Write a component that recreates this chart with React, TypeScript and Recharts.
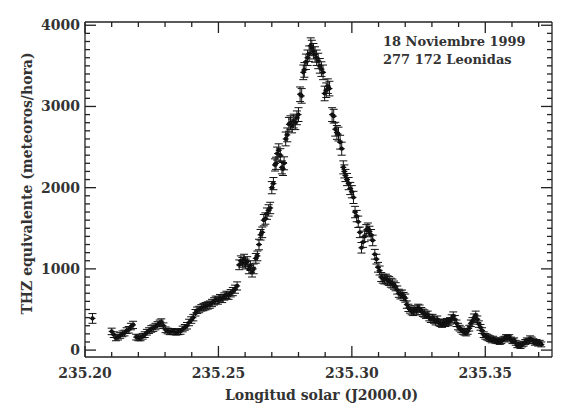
import { ErrorBar, Scatter, ScatterChart, XAxis, YAxis } from "recharts";

const longitudeTicks = [
  235.2, 235.21, 235.22, 235.23, 235.24, 235.25, 235.26, 235.27, 235.28,
  235.29, 235.3, 235.31, 235.32, 235.33, 235.34, 235.35, 235.36, 235.37,
];

const rateTicks = [
  0, 100, 200, 300, 400, 500, 600, 700, 800, 900, 1000, 1100, 1200, 1300,
  1400, 1500, 1600, 1700, 1800, 1900, 2000, 2100, 2200, 2300, 2400, 2500,
  2600, 2700, 2800, 2900, 3000, 3100, 3200, 3300, 3400, 3500, 3600, 3700,
  3800, 3900, 4000,
];

const annotation = ["18 Noviembre 1999", "277 172 Leonidas"];

// [longitud solar, THZ, error]
const rows: [number, number, number][] = [
  [235.2028, 390, 60],
  [235.21, 230, 40], [235.2108, 190, 35], [235.2116, 150, 35], [235.2124, 160, 35],
  [235.2132, 180, 35], [235.214, 200, 35], [235.2148, 210, 35], [235.2156, 240, 35],
  [235.2164, 250, 40], [235.2172, 290, 40], [235.218, 310, 45],
  [235.2192, 160, 35], [235.22, 150, 35], [235.2208, 150, 35], [235.2216, 170, 35],
  [235.2224, 190, 35], [235.2232, 220, 35], [235.224, 240, 35], [235.2248, 260, 40],
  [235.2256, 270, 40], [235.2264, 290, 40], [235.2272, 310, 40], [235.228, 330, 40],
  [235.2286, 345, 40], [235.2294, 300, 35], [235.2302, 250, 35], [235.231, 235, 35],
  [235.2318, 225, 35], [235.2326, 230, 35], [235.2334, 225, 35], [235.2342, 220, 35],
  [235.235, 225, 35], [235.2358, 230, 35], [235.2366, 260, 35], [235.2374, 280, 35],
  [235.2382, 300, 40], [235.239, 340, 40], [235.2398, 370, 40], [235.2406, 400, 40],
  [235.2414, 460, 40], [235.242, 490, 40], [235.2428, 500, 40], [235.2436, 520, 40],
  [235.2444, 530, 45], [235.2452, 540, 45], [235.246, 550, 45], [235.2468, 560, 45],
  [235.2476, 580, 45], [235.2484, 600, 45], [235.249, 620, 45], [235.2498, 610, 45],
  [235.2506, 640, 45], [235.2514, 630, 45], [235.2522, 660, 45], [235.253, 680, 45],
  [235.2538, 670, 45], [235.2546, 700, 45], [235.2554, 720, 50], [235.2562, 750, 50],
  [235.257, 790, 50],
  [235.2578, 1050, 60], [235.2584, 1100, 60], [235.259, 1080, 60], [235.2596, 1120, 60],
  [235.2602, 1060, 60], [235.2608, 1090, 60], [235.2614, 1000, 60], [235.262, 1040, 60],
  [235.2626, 960, 60], [235.2632, 1000, 60], [235.264, 1130, 60], [235.2646, 1160, 60],
  [235.2652, 1300, 65], [235.2658, 1420, 65], [235.2664, 1450, 65], [235.267, 1600, 70],
  [235.2676, 1620, 70], [235.2682, 1680, 70], [235.2688, 1720, 70], [235.2694, 1750, 70],
  [235.27, 2000, 75], [235.2706, 2050, 75], [235.2712, 2280, 75], [235.2716, 2300, 75],
  [235.272, 2420, 80], [235.2726, 2460, 80], [235.2732, 2400, 80], [235.2738, 2250, 80],
  [235.2742, 2230, 80], [235.2746, 2300, 80], [235.2752, 2600, 85], [235.2758, 2650, 85],
  [235.2764, 2780, 85], [235.277, 2800, 85], [235.2776, 2760, 85], [235.2782, 2820, 85],
  [235.2788, 2800, 85], [235.2794, 2860, 85], [235.28, 2900, 85], [235.2806, 3150, 90],
  [235.2812, 3130, 90], [235.2818, 3420, 90], [235.2822, 3450, 90], [235.2828, 3550, 95],
  [235.2834, 3600, 95], [235.284, 3650, 95], [235.2846, 3750, 95], [235.285, 3720, 95],
  [235.2856, 3680, 95], [235.2862, 3640, 95], [235.2868, 3600, 95], [235.2874, 3560, 95],
  [235.288, 3500, 90], [235.2886, 3460, 90], [235.2892, 3420, 90], [235.2898, 3160, 90],
  [235.2904, 3200, 90], [235.291, 3250, 90], [235.2916, 3220, 90], [235.2926, 2900, 85],
  [235.2932, 2880, 85], [235.2938, 2720, 85], [235.2944, 2680, 85], [235.295, 2660, 85],
  [235.2956, 2560, 85], [235.2962, 2480, 80], [235.2968, 2250, 80], [235.2972, 2200, 80],
  [235.2976, 2150, 75], [235.2982, 2100, 75], [235.2988, 2050, 75], [235.2994, 1990, 75],
  [235.3, 1950, 75], [235.3006, 1880, 75], [235.3012, 1700, 70], [235.3018, 1650, 70],
  [235.3024, 1580, 70], [235.303, 1450, 65], [235.3036, 1260, 65], [235.3042, 1330, 65],
  [235.3048, 1400, 65], [235.3054, 1480, 65], [235.306, 1500, 65], [235.3066, 1460, 65],
  [235.3072, 1420, 65], [235.3078, 1350, 65], [235.3086, 1180, 60], [235.3092, 1120, 60],
  [235.3098, 1020, 60], [235.3104, 980, 55], [235.311, 900, 55], [235.3116, 880, 55],
  [235.3122, 870, 55], [235.3128, 880, 55], [235.3134, 860, 55], [235.314, 850, 55],
  [235.3146, 830, 55], [235.3152, 820, 55], [235.3158, 800, 50], [235.3164, 780, 50],
  [235.317, 740, 50], [235.3176, 700, 50], [235.3182, 680, 50], [235.3188, 690, 50],
  [235.3194, 660, 50], [235.32, 640, 50], [235.3206, 560, 45], [235.3212, 520, 45],
  [235.3218, 500, 45], [235.3224, 480, 45], [235.323, 470, 45], [235.3236, 500, 45],
  [235.3242, 480, 45], [235.3248, 520, 45], [235.3254, 510, 45], [235.326, 480, 45],
  [235.3266, 460, 45], [235.3272, 450, 45], [235.3278, 430, 40], [235.3284, 440, 40],
  [235.329, 400, 40], [235.3296, 380, 40], [235.3302, 400, 40], [235.3308, 370, 40],
  [235.3314, 350, 40], [235.332, 380, 40], [235.3326, 340, 40], [235.3332, 330, 40],
  [235.3338, 320, 40], [235.3344, 340, 40], [235.335, 330, 40], [235.3356, 350, 40],
  [235.3362, 340, 40], [235.3368, 360, 40], [235.3374, 390, 45], [235.338, 420, 50],
  [235.3386, 380, 45], [235.3392, 330, 40], [235.3398, 290, 40], [235.3404, 270, 35],
  [235.341, 250, 35], [235.3416, 230, 35], [235.3422, 220, 35], [235.3428, 210, 35],
  [235.3434, 230, 35], [235.344, 270, 35], [235.3446, 330, 40], [235.3452, 360, 40],
  [235.3458, 400, 45], [235.3464, 430, 50], [235.347, 380, 40], [235.3476, 320, 40],
  [235.3482, 280, 35], [235.3488, 240, 35], [235.3494, 190, 35], [235.35, 170, 35],
  [235.3506, 160, 35], [235.3512, 150, 35], [235.3518, 140, 35], [235.3524, 120, 30],
  [235.353, 140, 30], [235.3536, 120, 30], [235.3542, 110, 30], [235.3548, 120, 30],
  [235.3554, 100, 30], [235.356, 110, 30], [235.3566, 130, 30], [235.3572, 140, 30],
  [235.3578, 160, 30], [235.3584, 150, 30], [235.359, 160, 30], [235.3596, 130, 30],
  [235.3602, 110, 30], [235.3608, 120, 30], [235.3614, 90, 30], [235.362, 60, 30],
  [235.3626, 70, 30], [235.3632, 50, 30], [235.3638, 70, 30], [235.3644, 80, 30],
  [235.365, 100, 30], [235.3656, 120, 30], [235.3662, 110, 30], [235.3668, 140, 35],
  [235.3674, 130, 30], [235.368, 110, 30], [235.3686, 90, 30], [235.3692, 100, 30],
  [235.3698, 80, 30], [235.3704, 90, 30], [235.371, 70, 30],
];

const data = rows.map(([lon, thz, err]) => ({ lon, thz, err }));

const FONT = "'DejaVu Serif', serif";
const INK = "#222";

const isMajorLon = (v: number) => Math.round(v * 100) % 5 === 0;
const isMajorRate = (v: number) => v % 1000 === 0;

function BottomTick({ x, y, payload }: any) {
  const major = isMajorLon(payload.value);
  return (
    <g>
      <line x1={x} x2={x} y1={y} y2={y - (major ? 11 : 5)} stroke={INK} strokeWidth={1.3} />
      {major && (
        <text x={x} y={y + 21} textAnchor="middle" fontFamily={FONT} fontSize={14} fontWeight="bold" fill="#333">
          {payload.value.toFixed(2)}
        </text>
      )}
    </g>
  );
}

function TopTick({ x, y, payload }: any) {
  const major = isMajorLon(payload.value);
  return <line x1={x} x2={x} y1={y} y2={y + (major ? 11 : 5)} stroke={INK} strokeWidth={1.3} />;
}

function LeftTick({ x, y, payload }: any) {
  const major = isMajorRate(payload.value);
  return (
    <g>
      <line x1={x} x2={x + (major ? 11 : 5)} y1={y} y2={y} stroke={INK} strokeWidth={1.3} />
      {major && (
        <text x={x - 5} y={y} dy={5} textAnchor="end" fontFamily={FONT} fontSize={14} fontWeight="bold" fill="#333">
          {payload.value}
        </text>
      )}
    </g>
  );
}

function RightTick({ x, y, payload }: any) {
  const major = isMajorRate(payload.value);
  return <line x1={x} x2={x - (major ? 11 : 5)} y1={y} y2={y} stroke={INK} strokeWidth={1.3} />;
}

function YTitle({ viewBox }: any) {
  const cx = viewBox.x + 27;
  const cy = viewBox.y + viewBox.height / 2 - 6;
  return (
    <text x={cx} y={cy} transform={`rotate(-90, ${cx}, ${cy})`} textAnchor="middle" dominantBaseline="central"
      fontFamily={FONT} fontSize={14} fontWeight="bold" fill="#333">
      THZ equivalente (meteoros/hora)
    </text>
  );
}

function XTitle({ viewBox }: any) {
  return (
    <text x={viewBox.x + viewBox.width / 2 + 3} y={viewBox.y + 43} textAnchor="middle"
      fontFamily={FONT} fontSize={14} fontWeight="bold" fill="#333">
      Longitud solar (J2000.0)
    </text>
  );
}

function Marker({ cx, cy }: any) {
  return (
    <g>
      <line x1={cx - 3} x2={cx + 3} y1={cy} y2={cy} stroke="#111" strokeWidth={1.2} />
      <circle cx={cx} cy={cy} r={2.1} fill="#111" />
    </g>
  );
}

export default function App() {
  return (
    <div style={{ position: "absolute", left: 0, top: 0, width: 564, height: 403, background: "#fff" }}>
      <ScatterChart width={564} height={403} margin={{ top: 21, right: 11, bottom: 0, left: 0 }}>
        <XAxis xAxisId="bottom" dataKey="lon" type="number" domain={[235.2, 235.375]} ticks={longitudeTicks}
          interval={0} tickSize={0} tickMargin={0} tickLine={false} tick={<BottomTick />} height={46}
          axisLine={{ stroke: INK, strokeWidth: 1.3 }} label={{ content: <XTitle /> }} allowDataOverflow />
        <XAxis xAxisId="top" orientation="top" dataKey="lon" type="number" domain={[235.2, 235.375]}
          ticks={longitudeTicks} interval={0} tickSize={0} tickMargin={0} tickLine={false} tick={<TopTick />}
          height={1} axisLine={{ stroke: INK, strokeWidth: 1.3 }} allowDataOverflow />
        <YAxis yAxisId="left" dataKey="thz" type="number" domain={[-85, 4040]} ticks={rateTicks} interval={0}
          tickSize={0} tickMargin={0} tickLine={false} tick={<LeftTick />} width={85}
          axisLine={{ stroke: INK, strokeWidth: 1.3 }} label={{ content: <YTitle /> }} allowDataOverflow />
        <YAxis yAxisId="right" orientation="right" dataKey="thz" type="number" domain={[-85, 4040]} ticks={rateTicks}
          interval={0} tickSize={0} tickMargin={0} tickLine={false} tick={<RightTick />} width={1}
          axisLine={{ stroke: INK, strokeWidth: 1.3 }} allowDataOverflow />
        <Scatter data={data} xAxisId="bottom" yAxisId="left" shape={<Marker />} isAnimationActive={false}>
          <ErrorBar dataKey="err" direction="y" width={4} stroke="#111" strokeWidth={1} isAnimationActive={false} />
        </Scatter>
      </ScatterChart>
      <div style={{ position: "absolute", left: 383, top: 33, fontFamily: FONT, fontSize: 13, fontWeight: "bold",
        color: "#333", lineHeight: "18px", whiteSpace: "pre" }}>
        {annotation.map((line) => (
          <div key={line}>{line}</div>
        ))}
      </div>
    </div>
  );
}
